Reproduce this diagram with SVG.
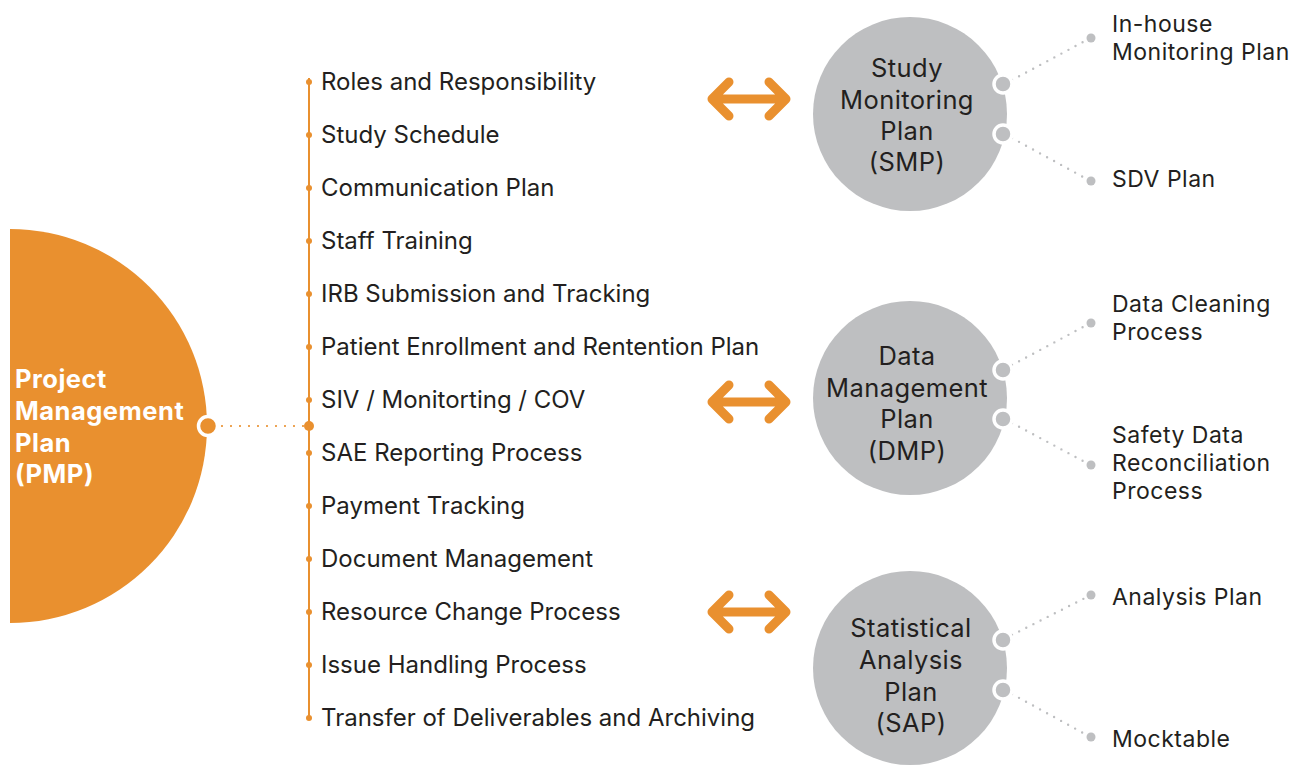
<svg xmlns="http://www.w3.org/2000/svg" width="1303" height="765" viewBox="0 0 1303 765">
<style>
  .item { font-family: Inter, "Noto Sans", "Liberation Sans", sans-serif; font-size: 24px; fill: #231F20; }
  .lbl { font-family: Inter, "Noto Sans", "Liberation Sans", sans-serif; font-size: 23px; letter-spacing: 0.5px; fill: #231F20; }
  .ctitle { font-family: Inter, "Noto Sans", "Liberation Sans", sans-serif; font-size: 25.5px; letter-spacing: 0.4px; fill: #231F20; text-anchor: middle; }
  .ptitle { font-family: Inter, "Noto Sans", "Liberation Sans", sans-serif; font-size: 25.5px; font-weight: 700; letter-spacing: 0.5px; fill: #FFFFFF; }
  .big { fill: #BEBFC1; }
  .port { fill: #BEBFC1; stroke: #FFFFFF; stroke-width: 3.5; }
  .gdot { fill: #BEBFC1; }
  .gline { fill: none; stroke: #BEBFC1; stroke-width: 2.4; stroke-linecap: round; stroke-dasharray: 0 8; }
  .odot { fill: #E9902F; }
  .arrow { fill: none; stroke: #E9902F; stroke-width: 9; stroke-linecap: round; stroke-linejoin: round; }
</style>
<rect width="1303" height="765" fill="#FFFFFF"/>

<g id="pmp">
  <path d="M10,229 A197,197 0 0 1 10,623 Z" fill="#E9902F"/>
  <text class="ptitle"><tspan x="15" y="388">Project</tspan><tspan x="15" y="420">Management</tspan><tspan x="15" y="452">Plan</tspan><tspan x="15" y="483">(PMP)</tspan></text>
  <circle cx="208" cy="426" r="9.5" fill="#E9902F" stroke="#FFFFFF" stroke-width="3.5"/>
</g>

<g id="connectors">
  <line x1="222" y1="426" x2="305" y2="426" stroke="#E9902F" stroke-width="2.2" stroke-linecap="round" stroke-dasharray="0 9"/>
  <line x1="309" y1="78" x2="309" y2="718" stroke="#E9902F" stroke-width="2"/>
  <circle class="odot" cx="309" cy="426" r="5"/>
  <g class="odot">
    <circle cx="309" cy="82" r="3"/>
    <circle cx="309" cy="135" r="3"/>
    <circle cx="309" cy="188" r="3"/>
    <circle cx="309" cy="241" r="3"/>
    <circle cx="309" cy="294" r="3"/>
    <circle cx="309" cy="347" r="3"/>
    <circle cx="309" cy="400" r="3"/>
    <circle cx="309" cy="453" r="3"/>
    <circle cx="309" cy="506" r="3"/>
    <circle cx="309" cy="559" r="3"/>
    <circle cx="309" cy="612" r="3"/>
    <circle cx="309" cy="665" r="3"/>
    <circle cx="309" cy="718" r="3"/>
  </g>
  <path class="arrow" d="M712,99 L786,99 M729,82 L712,99 L729,116 M769,82 L786,99 L769,116"/>
  <path class="arrow" d="M712,402 L786,402 M729,385 L712,402 L729,419 M769,385 L786,402 L769,419"/>
  <path class="arrow" d="M712,612 L786,612 M729,595 L712,612 L729,629 M769,595 L786,612 L769,629"/>
  <line class="gline" x1="1012" y1="80" x2="1085" y2="41"/>
  <line class="gline" x1="1012" y1="138" x2="1085" y2="178"/>
  <line class="gline" x1="1012" y1="365" x2="1085" y2="326"/>
  <line class="gline" x1="1012" y1="423" x2="1085" y2="462"/>
  <line class="gline" x1="1012" y1="635" x2="1085" y2="598"/>
  <line class="gline" x1="1012" y1="694" x2="1085" y2="734"/>
  <circle class="gdot" cx="1091" cy="38" r="4.5"/>
  <circle class="gdot" cx="1091" cy="181" r="4.5"/>
  <circle class="gdot" cx="1091" cy="323" r="4.5"/>
  <circle class="gdot" cx="1091" cy="465" r="4.5"/>
  <circle class="gdot" cx="1091" cy="595" r="4.5"/>
  <circle class="gdot" cx="1091" cy="737" r="4.5"/>
</g>

<g id="items">
  <text class="item" x="321" y="90">Roles and Responsibility</text>
  <text class="item" x="321" y="143">Study Schedule</text>
  <text class="item" x="321" y="196">Communication Plan</text>
  <text class="item" x="321" y="249">Staff Training</text>
  <text class="item" x="321" y="302">IRB Submission and Tracking</text>
  <text class="item" x="321" y="355">Patient Enrollment and Rentention Plan</text>
  <text class="item" x="321" y="408">SIV / Monitorting / COV</text>
  <text class="item" x="321" y="461">SAE Reporting Process</text>
  <text class="item" x="321" y="514">Payment Tracking</text>
  <text class="item" x="321" y="567">Document Management</text>
  <text class="item" x="321" y="620">Resource Change Process</text>
  <text class="item" x="321" y="673">Issue Handling Process</text>
  <text class="item" x="321" y="726">Transfer of Deliverables and Archiving</text>
</g>

<g id="smp">
  <circle class="big" cx="910" cy="114" r="97"/>
  <text class="ctitle"><tspan x="907" y="77">Study</tspan><tspan x="907" y="109">Monitoring</tspan><tspan x="907" y="140">Plan</tspan><tspan x="907" y="171">(SMP)</tspan></text>
  <circle class="port" cx="1003" cy="84" r="9"/>
  <circle class="port" cx="1003" cy="134" r="9"/>
</g>

<g id="dmp">
  <circle class="big" cx="910" cy="398" r="97"/>
  <text class="ctitle"><tspan x="907" y="365">Data</tspan><tspan x="907" y="397">Management</tspan><tspan x="907" y="428">Plan</tspan><tspan x="907" y="460">(DMP)</tspan></text>
  <circle class="port" cx="1003" cy="370" r="9"/>
  <circle class="port" cx="1003" cy="419" r="9"/>
</g>

<g id="sap">
  <circle class="big" cx="910" cy="668" r="97"/>
  <text class="ctitle"><tspan x="911" y="637">Statistical</tspan><tspan x="911" y="669">Analysis</tspan><tspan x="911" y="701">Plan</tspan><tspan x="911" y="732">(SAP)</tspan></text>
  <circle class="port" cx="1003" cy="640" r="9"/>
  <circle class="port" cx="1003" cy="690" r="9"/>
</g>

<g id="in-house">
  <text class="lbl"><tspan x="1112" y="32">In-house</tspan><tspan x="1112" y="60">Monitoring Plan</tspan></text>
</g>
<g id="sdv">
  <text class="lbl" x="1112" y="187">SDV Plan</text>
</g>
<g id="data-cleaning">
  <text class="lbl"><tspan x="1112" y="312">Data Cleaning</tspan><tspan x="1112" y="340">Process</tspan></text>
</g>
<g id="safety">
  <text class="lbl"><tspan x="1112" y="443">Safety Data</tspan><tspan x="1112" y="471">Reconciliation</tspan><tspan x="1112" y="499">Process</tspan></text>
</g>
<g id="analysis">
  <text class="lbl" x="1112" y="605">Analysis Plan</text>
</g>
<g id="mocktable">
  <text class="lbl" x="1112" y="747">Mocktable</text>
</g>
</svg>
